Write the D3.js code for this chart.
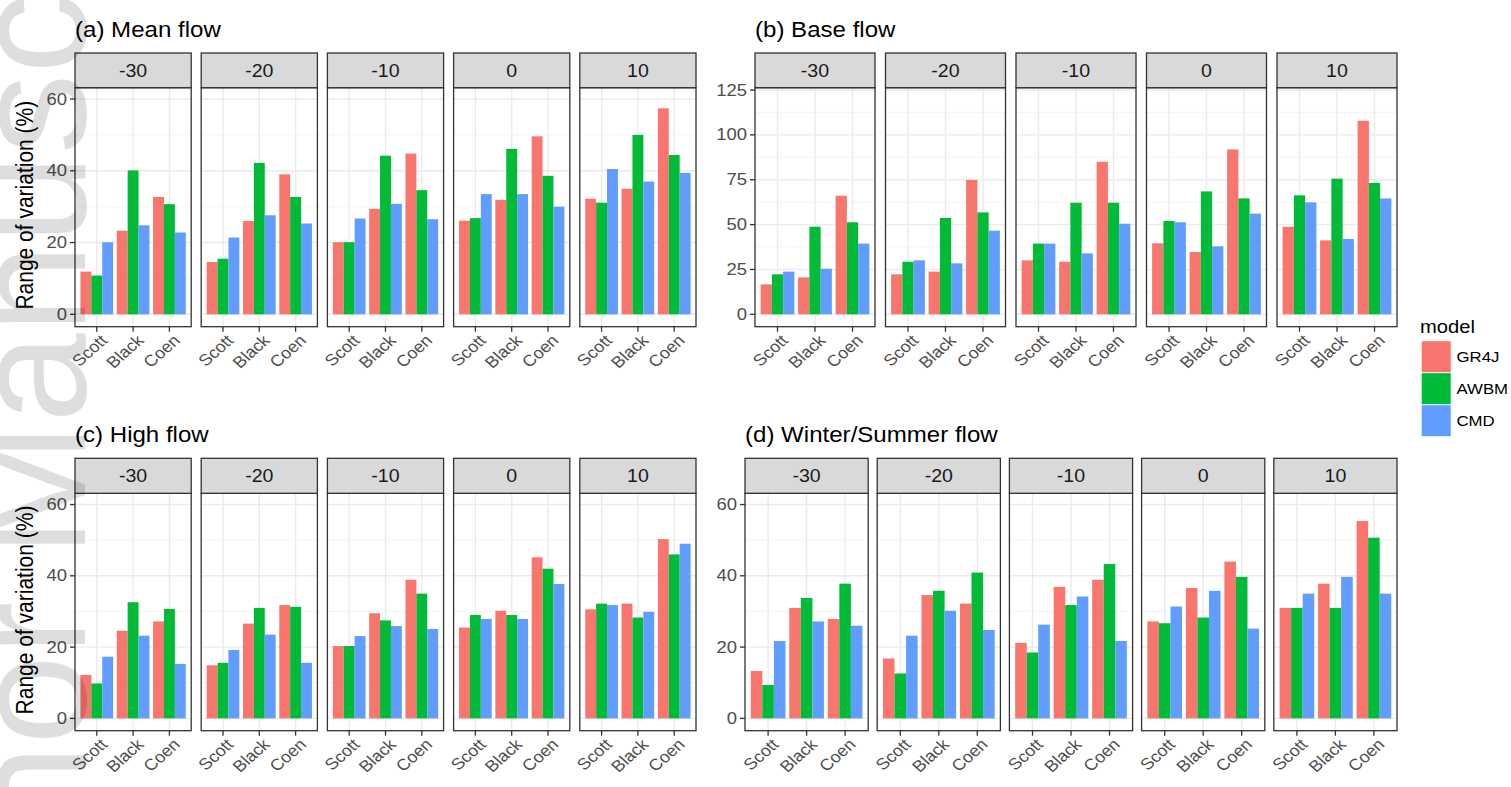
<!DOCTYPE html>
<html>
<head>
<meta charset="utf-8">
<script src="https://cdn.jsdelivr.net/npm/d3@7"></script>
<style>
  body { margin: 0; background: #ffffff; }
  svg { display: block; }
  text { font-family: "Liberation Sans", Arial, Helvetica, sans-serif; }
</style>
</head>
<body>
<svg id="chart" width="1511" height="787"></svg>
<script>
// ---- data ----------------------------------------------------------------
const scenarios = ["-30", "-20", "-10", "0", "10"];
const sites = ["Scott", "Black", "Coen"];
const models = ["GR4J", "AWBM", "CMD"];
const modelColors = ["#F8766D", "#00BA38", "#619CFF"];

// range of variation (%), per scenario -> site -> [GR4J, AWBM, CMD]
const meanFlow = [
  [[11.9, 10.8, 20.1], [23.3, 40.1, 24.8], [32.7, 30.7, 22.8]],
  [[14.6, 15.5, 21.4], [26.0, 42.2, 27.6], [39.0, 32.7, 25.3]],
  [[20.1, 20.1, 26.7], [29.4, 44.2, 30.8], [44.8, 34.6, 26.5]],
  [[26.1, 26.8, 33.5], [31.9, 46.1, 33.5], [49.6, 38.6, 30.0]],
  [[32.2, 31.1, 40.5], [35.0, 50.0, 37.0], [57.4, 44.4, 39.4]]
];
const baseFlow = [
  [[16.7, 22.3, 23.8], [20.6, 48.8, 25.4], [66.1, 51.3, 39.4]],
  [[22.3, 29.3, 30.1], [23.8, 53.7, 28.4], [74.9, 56.8, 46.6]],
  [[30.1, 39.4, 39.4], [29.3, 62.2, 34.0], [85.0, 62.2, 50.5]],
  [[39.6, 52.0, 51.3], [34.7, 68.5, 37.9], [91.9, 64.6, 56.1]],
  [[48.8, 66.3, 62.4], [41.2, 75.6, 42.0], [107.9, 73.2, 64.6]]
];
const highFlow = [
  [[12.2, 9.8, 17.3], [24.6, 32.6, 23.2], [27.2, 30.7, 15.3]],
  [[14.9, 15.6, 19.2], [26.6, 31.0, 23.5], [31.8, 31.3, 15.6]],
  [[20.3, 20.3, 23.1], [29.5, 27.5, 25.9], [38.9, 35.0, 25.1]],
  [[25.5, 29.0, 27.9], [30.2, 29.0, 27.9], [45.2, 42.0, 37.7]],
  [[30.6, 32.2, 31.8], [32.2, 28.3, 29.9], [50.3, 46.0, 49.0]]
];
const winterSummerFlow = [
  [[13.3, 9.4, 21.7], [31.0, 33.8, 27.2], [27.9, 37.8, 26.0]],
  [[16.8, 12.6, 23.2], [34.6, 35.8, 30.2], [32.2, 40.9, 24.8]],
  [[21.2, 18.5, 26.3], [36.9, 31.8, 34.2], [38.9, 43.3, 21.7]],
  [[27.2, 26.7, 31.4], [36.6, 28.3, 35.8], [44.0, 39.7, 25.2]],
  [[31.0, 31.0, 35.0], [37.8, 31.0, 39.7], [55.4, 50.7, 35.0]]
];

const pctTicks = [0, 20, 40, 60];
const pctMinor = [10, 30, 50];
const baseTicks = [0, 25, 50, 75, 100, 125];
const baseMinor = [12.5, 37.5, 62.5, 87.5, 112.5];

const yTitle = "Range of variation (%)";
const legendTitle = "model";

// ---- layout --------------------------------------------------------------
const SX = 1.12;            // horizontal text stretch
const rows = [
  { title: 37, stripTop: 53, plotTop: 87.7, plotBottom: 326.7 },
  { title: 441.7, stripTop: 458.3, plotTop: 493.3, plotBottom: 730.7 }
];
const panels = [
  { title: "(a) Mean flow", values: meanFlow, row: 0, x0: 75, x1: 696, gap: 10,
    domain: [-3.45, 63.15], ticks: pctTicks, minor: pctMinor, yLabel: true },
  { title: "(b) Base flow", values: baseFlow, row: 0, x0: 755, x1: 1397, gap: 10.5,
    domain: [-6.9, 126.3], ticks: baseTicks, minor: baseMinor, yLabel: false },
  { title: "(c) High flow", values: highFlow, row: 1, x0: 75, x1: 696, gap: 10,
    domain: [-3.45, 63.15], ticks: pctTicks, minor: pctMinor, yLabel: true },
  { title: "(d) Winter/Summer flow", values: winterSummerFlow, row: 1, x0: 745, x1: 1397, gap: 9,
    domain: [-3.45, 63.15], ticks: pctTicks, minor: pctMinor, yLabel: false }
];

const svg = d3.select("#chart");
svg.append("rect").attr("width", 1511).attr("height", 787).attr("fill", "#ffffff");

function label(g, x, y, angle, str) {
  return g.append("text")
    .attr("transform", `translate(${x},${y}) scale(${SX},1) rotate(${angle})`)
    .text(str);
}

panels.forEach(p => {
  const r = rows[p.row];
  const g = svg.append("g");
  const width = p.x1 - p.x0;
  const step = (width + p.gap) / scenarios.length;

  const fx = d3.scaleBand().domain(scenarios)
    .range([p.x0, p.x1]).paddingInner(p.gap / step).paddingOuter(0);
  const y = d3.scaleLinear().domain(p.domain).range([r.plotBottom, r.plotTop]);

  // panel title
  label(g, p.x0, r.title, 0, p.title)
    .attr("font-size", 21.5).attr("fill", "#000000");

  scenarios.forEach((sc, si) => {
    const fx0 = fx(sc), fw = fx.bandwidth();
    const xs = d3.scaleBand().domain(sites).range([fx0, fx0 + fw])
      .paddingInner(0.1).paddingOuter(0.15);
    const xm = d3.scaleBand().domain(models).range([0, xs.bandwidth()]);
    const f = g.append("g");

    // panel background + grid
    f.append("rect").attr("x", fx0).attr("y", r.plotTop).attr("width", fw)
      .attr("height", r.plotBottom - r.plotTop).attr("fill", "#ffffff");
    f.selectAll("line.minor").data(p.minor).join("line")
      .attr("x1", fx0).attr("x2", fx0 + fw)
      .attr("y1", d => y(d)).attr("y2", d => y(d))
      .attr("stroke", "#f0f0f0").attr("stroke-width", 0.7);
    f.selectAll("line.majorY").data(p.ticks).join("line")
      .attr("x1", fx0).attr("x2", fx0 + fw)
      .attr("y1", d => y(d)).attr("y2", d => y(d))
      .attr("stroke", "#ebebeb").attr("stroke-width", 1.4);
    f.selectAll("line.majorX").data(sites).join("line")
      .attr("x1", d => xs(d) + xs.bandwidth() / 2).attr("x2", d => xs(d) + xs.bandwidth() / 2)
      .attr("y1", r.plotTop).attr("y2", r.plotBottom)
      .attr("stroke", "#ebebeb").attr("stroke-width", 1.4);

    // bars
    sites.forEach((site, ki) => {
      f.selectAll(null).data(p.values[si][ki]).join("rect")
        .attr("x", (d, mi) => xs(site) + xm(models[mi]))
        .attr("width", xm.bandwidth())
        .attr("y", d => y(d))
        .attr("height", d => y(0) - y(d))
        .attr("fill", (d, mi) => modelColors[mi]);
    });

    // frame
    f.append("rect").attr("x", fx0).attr("y", r.plotTop).attr("width", fw)
      .attr("height", r.plotBottom - r.plotTop)
      .attr("fill", "none").attr("stroke", "#333333").attr("stroke-width", 1.3);

    // strip
    f.append("rect").attr("x", fx0).attr("y", r.stripTop).attr("width", fw)
      .attr("height", r.plotTop - r.stripTop)
      .attr("fill", "#d9d9d9").attr("stroke", "#333333").attr("stroke-width", 1.3);
    label(f, fx0 + fw / 2, (r.stripTop + r.plotTop) / 2 + 6.5, 0, sc)
      .attr("text-anchor", "middle").attr("font-size", 17.5).attr("fill", "#1a1a1a");

    // x axis ticks + rotated labels
    sites.forEach(site => {
      const cx = xs(site) + xs.bandwidth() / 2;
      f.append("line").attr("x1", cx).attr("x2", cx)
        .attr("y1", r.plotBottom).attr("y2", r.plotBottom + 5)
        .attr("stroke", "#333333").attr("stroke-width", 1.3);
      label(f, cx + 4, r.plotBottom + 8, -45, site)
        .attr("text-anchor", "end").attr("dy", "0.6em")
        .attr("font-size", 16).attr("fill", "#4d4d4d");
    });

    // y axis on the first facet only
    if (si === 0) {
      p.ticks.forEach(t => {
        f.append("line").attr("x1", fx0 - 5).attr("x2", fx0)
          .attr("y1", y(t)).attr("y2", y(t))
          .attr("stroke", "#333333").attr("stroke-width", 1.3);
        label(f, fx0 - 8, y(t) + 5.5, 0, t)
          .attr("text-anchor", "end").attr("font-size", 16.5).attr("fill", "#4d4d4d");
      });
      if (p.yLabel) {
        label(f, 33, (r.plotTop + r.plotBottom) / 2 - 2, -90, yTitle)
          .attr("text-anchor", "middle").attr("font-size", 21).attr("fill", "#000000");
      }
    }
  });
});

// ---- legend ----------------------------------------------------------------
const lg = svg.append("g");
label(lg, 1420, 333, 0, legendTitle).attr("font-size", 18).attr("fill", "#000000");
const keyY = d3.scaleBand().domain(models).range([340.7, 436.7]);
models.forEach((m, i) => {
  lg.append("rect").attr("x", 1421.7).attr("y", keyY(m) + 0.5)
    .attr("width", 29).attr("height", keyY.bandwidth() - 1)
    .attr("fill", modelColors[i]);
  label(lg, 1456.5, keyY(m) + keyY.bandwidth() / 2 + 5.5, 0, m)
    .attr("font-size", 15).attr("fill", "#000000");
});

// ---- watermark along the left edge --------------------------------------------
svg.append("text")
  .attr("transform", "translate(85,1076) rotate(-90)")
  .attr("font-size", 161)
  .attr("fill", "#000000").attr("fill-opacity", 0.13)
  .text("Author Manuscript");
</script>
</body>
</html>
